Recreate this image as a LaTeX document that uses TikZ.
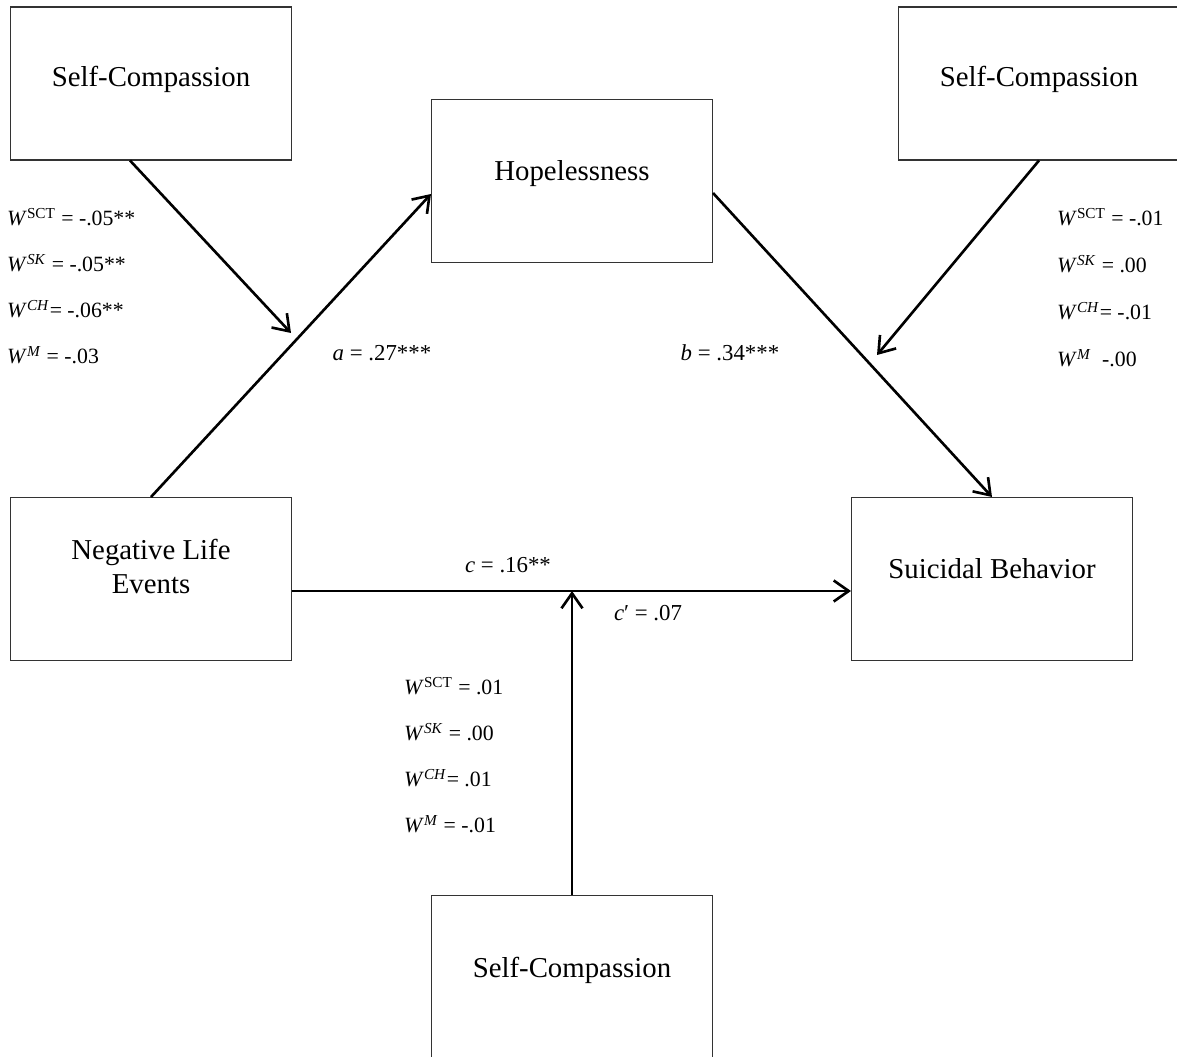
\documentclass[tikz,border=0pt]{standalone}
\usepackage{fontspec}
\setmainfont{Liberation Serif}
\usetikzlibrary{arrows.meta,calc}
\newcommand{\Wsup}[1]{\textit{W}\textsuperscript{#1}}
\begin{document}
\begin{tikzpicture}[x=0.02cm, y=-0.02cm,
    box/.style={draw=black!80, line width=0.6pt, minimum width=5.62cm, minimum height=3.26cm,
                text depth=12pt, align=center, font=\fontsize{16.4}{19.5}\selectfont},
    path/.style={line width=1.5pt, -{Straight Barb[length=3mm,width=4.2mm,line width=1.5pt]}},
    coef/.style={anchor=west, font=\fontsize{12.4}{15}\selectfont},
    est/.style={font=\fontsize{13}{15}\selectfont}]
  \useasboundingbox (0,0) rectangle (1177,1057);
  % variables
  \node[box, minimum height=3.06cm, text depth=8pt] (sc1) at (151,83.5) {Self-Compassion};
  \node[box, minimum height=3.06cm, text depth=8pt] (sc2) at (1039,83.5) {Self-Compassion};
  \node[box] (hope) at (572,181) {Hopelessness};
  \node[box, text depth=14pt] (nle) at (151,579) {Negative Life\\Events};
  \node[box] (sb) at (992,579) {Suicidal Behavior};
  \node[box, minimum height=3.3cm] (sc3) at (572,978) {Self-Compassion};
  % paths
  \draw[path] (nle.north) -- ($(hope.west)+(0,13)$);
  \draw[path] ($(hope.east)+(0,12)$) -- (sb.north);
  \draw[path] ($(nle.east)+(0,12)$) coordinate (cstart) -- ($(sb.west)+(0,12)$);
  % moderation
  \coordinate (ma) at (291,333);
  \coordinate (mb) at (877,355);
  \draw[path] ($(sc1.south)+(-21,0)$) -- (ma);
  \draw[path] (sc2.south) -- (mb);
  \draw[path] (sc3.north) -- (sc3.north |- cstart);
  % estimates
  \node[est] (ea) at (382,353) {\textit{a} = .27***};
  \node[est] (eb) at (730,353) {\textit{b} = .34***};
  \node[est] (ec) at (508,565) {\textit{c} = .16**};
  \node[est] (ecp) at (648,613) {\textit{c}′ = .07};
  \foreach \t [count=\i] in {{\Wsup{SCT} = -.05**}, {\Wsup{\textit{SK}} = -.05**},
                             {\Wsup{\textit{CH}}= -.06**}, {\Wsup{\textit{M}} = -.03}}
    \node[coef] (wa\i) at (1,171+46*\i) {\t};
  \foreach \t [count=\i] in {{\Wsup{SCT} = -.01}, {\Wsup{\textit{SK}} = .00},
                             {\Wsup{\textit{CH}}= -.01}, {\Wsup{\textit{M}}\ \ -.00}}
    \node[coef] (wb\i) at (1051,170+47*\i) {\t};
  \foreach \t [count=\i] in {{\Wsup{SCT} = .01}, {\Wsup{\textit{SK}} = .00},
                             {\Wsup{\textit{CH}}= .01}, {\Wsup{\textit{M}} = -.01}}
    \node[coef] (wc\i) at (398,640+46*\i) {\t};
\end{tikzpicture}
\end{document}
